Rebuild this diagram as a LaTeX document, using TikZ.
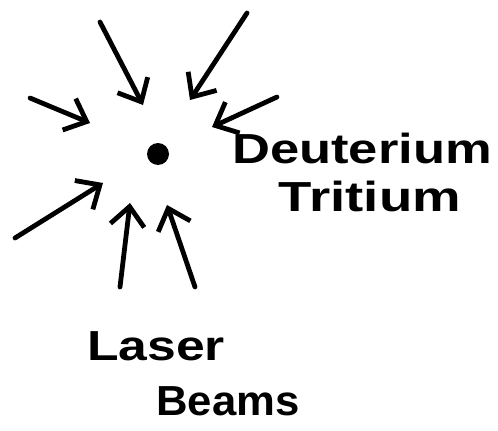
\documentclass[tikz,border=0pt]{standalone}
\usepackage{fontspec}
\setmainfont{Liberation Sans}
\usetikzlibrary{arrows.meta}
\tikzset{
  beam/.style={line width=4.8pt,line cap=round,line join=round,
    -{Straight Barb[length=19pt,width=34pt,line width=4.8pt]}},
  label/.style={font=\bfseries\fontsize{42}{48}\selectfont,inner sep=0pt}
}
\begin{document}
\begin{tikzpicture}[x=1pt,y=-1pt]
  \useasboundingbox (0,0) rectangle (498,431);
  % target pellet
  \node[circle,fill,inner sep=0pt,minimum size=22pt] (pellet) at (158,154) {};
  % beams: tail/tip pairs
  \foreach \n/\tx/\ty/\hx/\hy in {a/100/22/143/105, b/247/13/190/100,
      c/30/98/90/123, d/277/97/212/127, e/15/238/103/183,
      f/120/287/130/203, g/195/287/167/205}{
    \coordinate (tail\n) at (\tx,\ty);
    \coordinate (tip\n) at (\hx,\hy);
    \draw[beam] (tail\n) -- (tip\n);
  }
  \node[label,xscale=1.25] (deut) at (362,148) {Deuterium};
  \node[label,xscale=1.3] (trit) at (370,196) {Tritium};
  \node[label,xscale=1.23] (laser) at (156,346) {Laser};
  \node[label,xscale=1.04] (beams) at (228,401) {Beams};
\end{tikzpicture}
\end{document}
